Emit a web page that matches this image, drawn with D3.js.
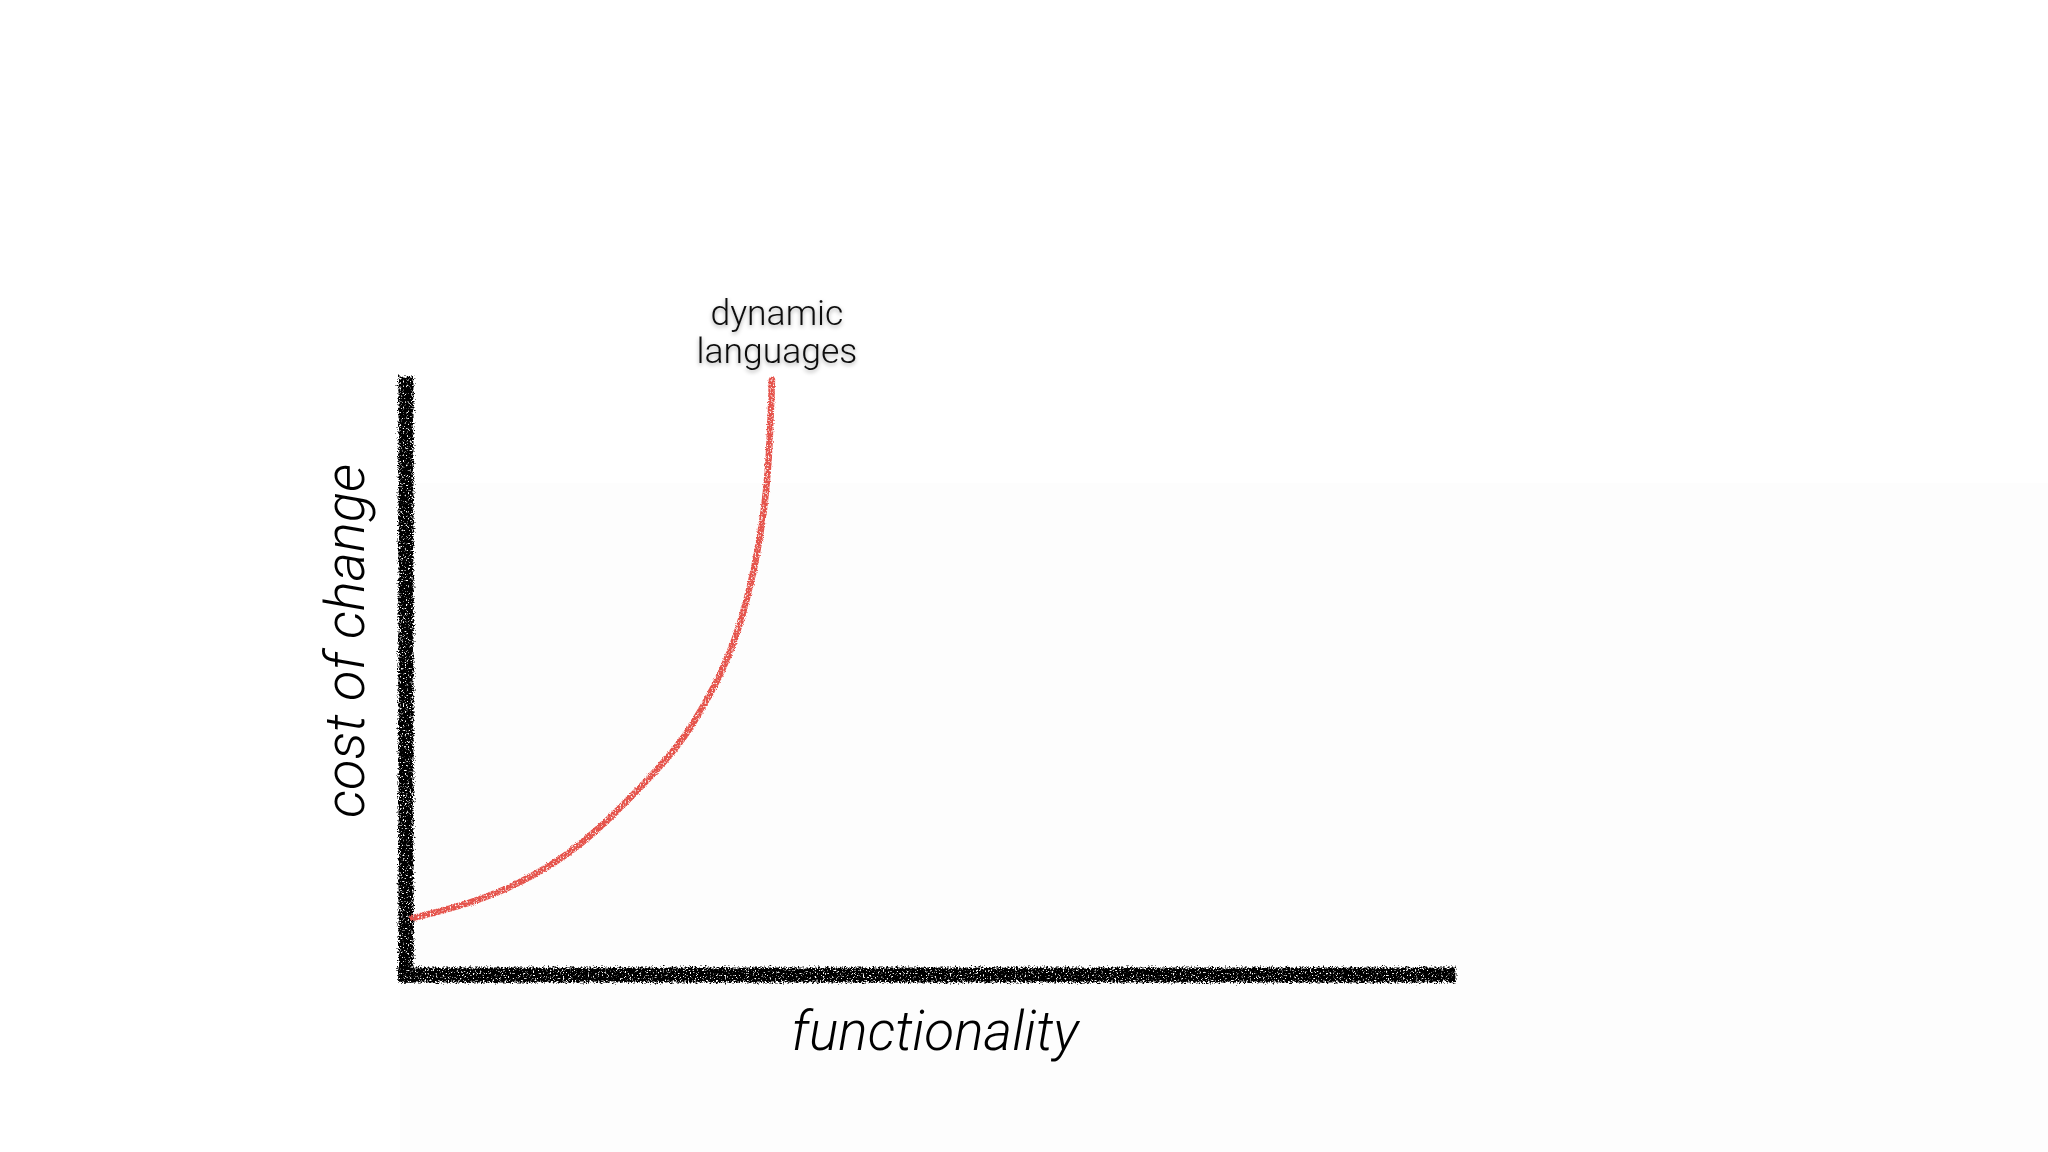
<!DOCTYPE html>
<html>
<head>
<meta charset="utf-8">
<script src="https://cdn.jsdelivr.net/npm/d3@7"></script>
<style>
  html, body { margin: 0; padding: 0; background: #ffffff; }
  svg { display: block; }
</style>
</head>
<body>
<script>
// ---- data ----
const xLabel = "functionality";
const yLabel = "cost of change";
const seriesLabel = ["dynamic", "languages"];
const functionality = [0.67, 2.59, 5.85, 9.02, 12.19, 15.45, 18.62, 21.79, 25.05, 26.87, 28.50, 30.33, 31.67, 32.63, 33.40, 33.97, 34.45, 34.74, 34.93, 35.12];
const costOfChange  = [9.64, 10.49, 12.01, 14.04, 16.75, 20.30, 24.87, 30.46, 36.55, 40.61, 45.35, 51.27, 57.19, 62.94, 68.53, 74.11, 79.86, 85.45, 91.03, 100.68];
const xDomain = [0, 100];
const yDomain = [0, 100];

// ---- layout ----
const W = 2048, H = 1152;
const svg = d3.select("body").append("svg").attr("width", W).attr("height", H);

const defs = svg.append("defs");
function chalk(id, seed, freq, scale, holeGain, holeBias) {
  const f = defs.append("filter").attr("id", id)
    .attr("filterUnits", "userSpaceOnUse")
    .attr("x", 0).attr("y", 0).attr("width", W).attr("height", H);
  f.append("feTurbulence").attr("type", "fractalNoise").attr("baseFrequency", freq)
    .attr("numOctaves", 2).attr("seed", seed).attr("result", "noise");
  f.append("feDisplacementMap").attr("in", "SourceGraphic").attr("in2", "noise")
    .attr("scale", scale).attr("xChannelSelector", "R").attr("yChannelSelector", "G").attr("result", "disp");
  f.append("feTurbulence").attr("type", "fractalNoise").attr("baseFrequency", 0.6)
    .attr("numOctaves", 2).attr("seed", seed + 5).attr("result", "n2");
  f.append("feColorMatrix").attr("in", "n2").attr("type", "matrix")
    .attr("values", `0 0 0 0 0  0 0 0 0 0  0 0 0 0 0  ${holeGain} 0 0 0 ${holeBias}`).attr("result", "mask");
  f.append("feComposite").attr("in", "disp").attr("in2", "mask").attr("operator", "in");
}
chalk("chalkAxis", 3, 0.6, 8, 7, -1.9);
chalk("chalkLine", 11, 0.9, 3, 4, -0.9);

const shadow = defs.append("filter").attr("id", "shadow")
  .attr("x", "-20%").attr("y", "-30%").attr("width", "140%").attr("height", "160%");
shadow.append("feDropShadow").attr("dx", 0).attr("dy", 2).attr("stdDeviation", 2)
  .attr("flood-color", "#000").attr("flood-opacity", 0.35);

// faint slide panel
svg.append("rect").attr("x", 400).attr("y", 483).attr("width", W - 400).attr("height", H - 483)
  .attr("fill", "#fdfdfd");

const x = d3.scaleLinear().domain(xDomain).range([406, 1448]);
const y = d3.scaleLinear().domain(yDomain).range([975, 384]);

// axes (hand-drawn look)
const axisG = svg.append("g").attr("filter", "url(#chalkAxis)");
axisG.append("path")
  .attr("d", d3.line()([[x(xDomain[0]), y(yDomain[0])], [x(xDomain[0]), y(yDomain[1])]]))
  .attr("stroke", "#000").attr("stroke-width", 15).attr("stroke-linecap", "square").attr("fill", "none");
axisG.append("path")
  .attr("d", d3.line()([[x(xDomain[0]), y(yDomain[0])], [x(xDomain[1]), y(yDomain[0])]]))
  .attr("stroke", "#000").attr("stroke-width", 15).attr("stroke-linecap", "square").attr("fill", "none");

// curve
const pts = functionality.map((v, i) => [v, costOfChange[i]]);
svg.append("path")
  .datum(pts)
  .attr("filter", "url(#chalkLine)")
  .attr("d", d3.line().x(d => x(d[0])).y(d => y(d[1])).curve(d3.curveBasis))
  .attr("fill", "none").attr("stroke", "#e5524b").attr("stroke-width", 6.5).attr("stroke-linecap", "round");

// series label
const lx = x(functionality[functionality.length - 1]) + 5;
const lbl = svg.append("text")
  .attr("x", lx)
  .attr("y", 325)
  .attr("text-anchor", "middle")
  .attr("font-family", "Roboto, 'Open Sans', sans-serif")
  .attr("font-weight", 300)
  .attr("font-size", 35.5)
  .attr("fill", "#111")
  .attr("filter", "url(#shadow)");
seriesLabel.forEach((t, i) => {
  lbl.append("tspan").attr("x", lx).attr("dy", i === 0 ? 0 : 38).text(t);
});

// axis titles
svg.append("text")
  .attr("x", 935).attr("y", 1050)
  .attr("text-anchor", "middle")
  .attr("font-family", "Roboto, 'Open Sans', sans-serif")
  .attr("font-weight", 300)
  .attr("font-style", "italic")
  .attr("font-size", 55)
  .attr("fill", "#000")
  .text(xLabel);

svg.append("text")
  .attr("transform", "translate(364,641) rotate(-90)")
  .attr("text-anchor", "middle")
  .attr("font-family", "Roboto, 'Open Sans', sans-serif")
  .attr("font-weight", 300)
  .attr("font-style", "italic")
  .attr("font-size", 56)
  .attr("fill", "#000")
  .text(yLabel);
</script>
</body>
</html>
